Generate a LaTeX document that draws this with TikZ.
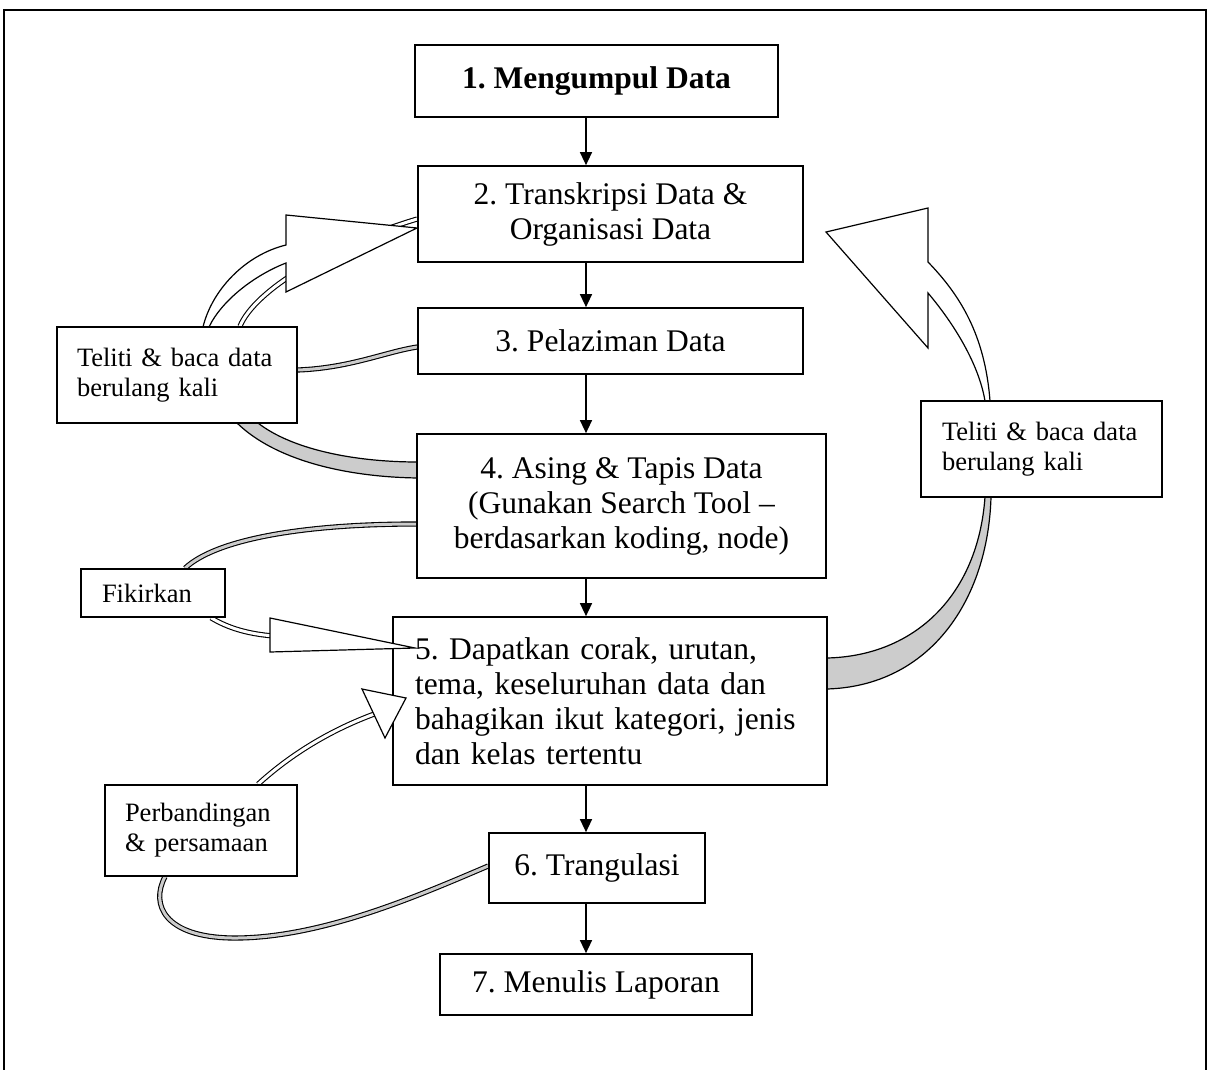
\documentclass[tikz,border=0pt]{standalone}
\usepackage{fontspec}
\setmainfont{Liberation Serif}
\usetikzlibrary{arrows.meta,backgrounds}
\frenchspacing
\newcommand{\stepfont}{\fontsize{31.5}{35}\selectfont}
\newcommand{\notefont}{\fontsize{26.5}{30}\selectfont}

\begin{document}
\begin{tikzpicture}[x=1pt,y=-1pt,
  stepbox/.style={draw, line width=1.7pt, fill=white, inner sep=0pt, align=center, font=\stepfont},
  notebox/.style={draw, line width=1.5pt, fill=white, inner ysep=0pt, align=left, font=\notefont},
  flow/.style={line width=1.4pt, -{Triangle[length=13pt,width=12pt]}},
  band/.style={line width=1.1pt, double distance=3pt},
  blockarrow/.style={draw, line width=1.2pt, fill=white}]
\useasboundingbox (0,0) rectangle (1210,1070);
\draw[line width=1.6pt] (4,1070) -- (4,10) -- (1206,10) -- (1206,1070);

\coordinate (axis) at (586,0);
\node[stepbox, minimum width=363pt, minimum height=72pt, font=\stepfont\bfseries] (step1) at (596.5,81) {1. Mengumpul Data};
\node[stepbox, minimum width=385pt, minimum height=96pt] (step2) at (610.5,214) {2. Transkripsi Data \&\\Organisasi Data};
\node[stepbox, minimum width=385pt, minimum height=66pt] (step3) at (610.5,341) {3. Pelaziman Data};
\node[stepbox, minimum width=409pt, minimum height=144pt] (step4) at (621.5,506) {4. Asing \& Tapis Data\\(Gunakan Search Tool --\\berdasarkan koding, node)};
\node[stepbox, minimum width=434pt, minimum height=168pt, inner xsep=22pt, text width=390pt, align=left] (step5) at (610,701) {5. Dapatkan corak, urutan,\\tema, keseluruhan data dan\\bahagikan ikut kategori, jenis\\dan kelas tertentu};
\node[stepbox, minimum width=216pt, minimum height=70pt] (step6) at (597,868) {6. Trangulasi};
\node[stepbox, minimum width=312pt, minimum height=61pt] (step7) at (596,984.5) {7. Menulis Laporan};

\node[notebox, minimum height=96pt, inner xsep=20pt, text width=200pt] (note1) at (177,375) {Teliti \& baca data\\berulang kali};
\node[notebox, minimum height=96pt, inner xsep=21pt, text width=199pt] (note2) at (1041.5,449) {Teliti \& baca data\\berulang kali};
\node[notebox, minimum height=48pt, inner xsep=21pt, text width=102pt] (note3) at (153,593) {Fikirkan};
\node[notebox, minimum height=91pt, inner xsep=20pt, text width=152pt] (note4) at (201,830.5) {Perbandingan\\\& persamaan};

\foreach \a/\b in {step1/step2,step2/step3,step3/step4,step4/step5,step5/step6,step6/step7}
  \draw[flow] (\a.south -| axis) -- (\b.north -| axis);

\begin{pgfonlayer}{background}
\draw[band, double=white] ([xshift=63pt]note1.north) .. controls (255,290) and (330,245) .. ([yshift=-5pt]step2.west);
\draw[blockarrow] (203,327) .. controls (212,290) and (245,255) .. (286,245) -- (286,215) -- (417,228) -- (286,292) -- (286,263) .. controls (255,275) and (222,300) .. (209,327) -- cycle;
\draw[band, double=gray!40] ([yshift=5pt]note1.east) .. controls (350,368) and (385,352) .. ([yshift=-6pt]step3.west);
\draw[blockarrow, fill=gray!40] (237,423) .. controls (275,460) and (345,477) .. (418,478) -- (418,462) .. controls (350,462) and (290,448) .. (258,423) -- cycle;
\draw[band, double=gray!40] ([yshift=-18pt]step4.west) .. controls (300,524) and (215,540) .. ([xshift=32pt]note3.north);
\draw[band, double=white] ([xshift=58pt]note3.south) .. controls (228,628) and (248,634) .. (274,636);
\draw[band, double=white] ([xshift=57pt]note4.north) .. controls (290,755) and (330,730) .. (377,713);
\draw[band, double=gray!40] ([xshift=-36pt]note4.south) .. controls (150,905) and (165,937) .. (232,938) .. controls (320,939) and (420,895) .. ([yshift=2pt]step6.west);
\draw[blockarrow, fill=gray!40] (827,689) .. controls (930,686) and (988,600) .. (991,497) -- (985,497) .. controls (978,595) and (915,656) .. (827,658) -- cycle;
\draw[blockarrow] (990,401) .. controls (985,335) and (960,295) .. (928,262) -- (928,208) -- (826,232) -- (928,348) -- (928,293) .. controls (955,325) and (979,365) .. (985,401) -- cycle;
\end{pgfonlayer}

\draw[blockarrow] (270,618) -- (415,648) -- (270,652) -- cycle;
\draw[blockarrow] (362,689) -- (406,698) -- (385,738) -- cycle;
\end{tikzpicture}
\end{document}
